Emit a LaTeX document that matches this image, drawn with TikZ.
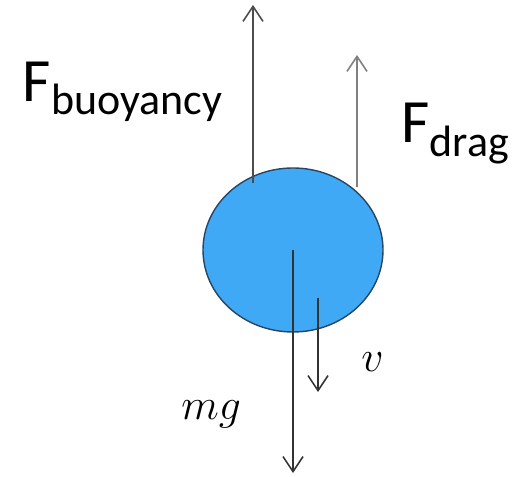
\documentclass[tikz,border=0pt]{standalone}
\usepackage{fontspec}
\setmainfont{Carlito}
\usepackage{xcolor}
\usetikzlibrary{arrows.meta,shapes.geometric}

\definecolor{ballblue}{RGB}{63,169,245}
\definecolor{ballrim}{RGB}{40,70,100}

\begin{document}
\begin{tikzpicture}[
  force/.style={-{Straight Barb[length=3mm,width=4mm]}, line width=0.9pt, draw=black!70},
  ball/.style={ellipse, draw=ballrim, fill=ballblue, line width=0.8pt, minimum width=3.6cm, minimum height=3.28cm, inner sep=0pt},
  lbl/.style={anchor=base west, inner sep=0pt, font=\fontsize{35}{40}\selectfont},
  mlbl/.style={anchor=base west, inner sep=0pt, font=\fontsize{31}{34}\selectfont},
]
\useasboundingbox (0,0) rectangle (10.34,9.54);

\node[ball] (ball) at (5.86,4.54) {};

% start and end points of the forces
\coordinate (buoyS) at (5.06,5.88);
\coordinate (buoyE) at (5.06,9.44);
\coordinate (dragS) at (7.14,5.80);
\coordinate (dragE) at (7.14,8.44);
\coordinate (mgE) at (5.86,0.08);
\coordinate (velS) at (6.36,3.58);
\coordinate (velE) at (6.36,1.70);

\draw[force] (buoyS) -- (buoyE);
\draw[force, draw=black!50] (dragS) -- (dragE);
\draw[force, draw=black!80] (ball.center) -- (mgE);
\draw[force, draw=black!80] (velS) -- (velE);

\node[lbl] (fbuoy) at (0.45,7.50) {F\raisebox{-0.26cm}{\fontsize{25}{28}\selectfont buoyancy}};
\node[lbl] (fdrag) at (8.02,6.68) {F\raisebox{-0.28cm}{\fontsize{25}{28}\selectfont drag}};
\node[mlbl] (mg) at (3.62,1.14) {$mg$};
\node[mlbl] (vel) at (7.22,2.10) {$v$};

\end{tikzpicture}
\end{document}
